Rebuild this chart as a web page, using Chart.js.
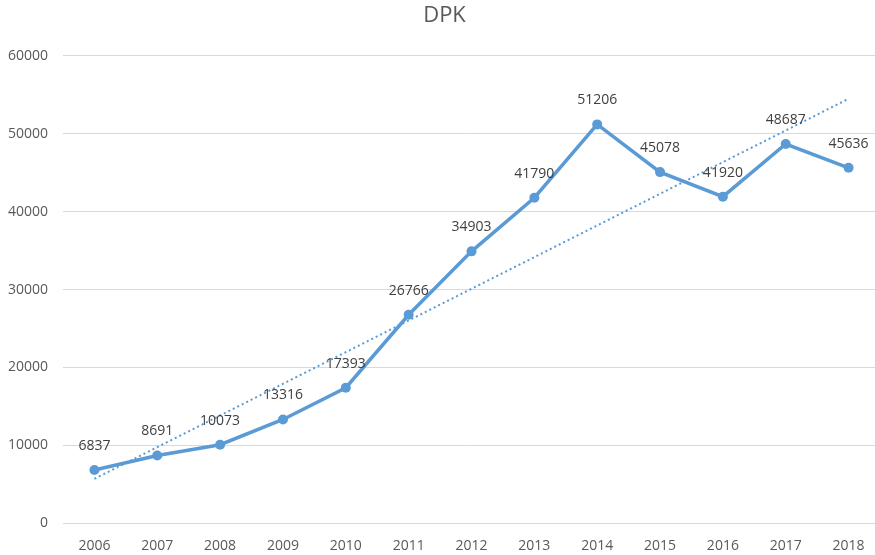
<!DOCTYPE html>
<html>
<head>
<meta charset="utf-8">
<script src="https://cdn.jsdelivr.net/npm/chart.js@4/dist/chart.umd.min.js"></script>
<style>
  html, body { margin: 0; padding: 0; background: #fff; overflow: hidden; }
  #wrap { width: 898px; height: 569px; margin-left: -13px; }
</style>
</head>
<body>
<div id="wrap"><canvas id="chart"></canvas></div>
<script>
let years = ['2006', '2007', '2008', '2009', '2010', '2011', '2012', '2013', '2014', '2015', '2016', '2017', '2018'];
let dpk = [6837, 8691, 10073, 13316, 17393, 26766, 34903, 41790, 51206, 45078, 41920, 48687, 45636];
// trendline ends
let trendYears = ['2006', '2018'];
let trendValues = [5700, 54500];
let yTicks = [0, 10000, 20000, 30000, 40000, 50000, 60000];

let blue = '#5B9BD5';
let grey = '#595959';
let font = '"Open Sans", "Noto Sans", sans-serif';

// draws the value above each point of the main series
let valueLabels = {
    id: 'valueLabels',
    afterDatasetsDraw(chart) {
        let ctx = chart.ctx;
        let meta = chart.getDatasetMeta(0);
        ctx.save();
        ctx.fillStyle = '#404040';
        ctx.font = '14px ' + font;
        ctx.textAlign = 'center';
        ctx.textBaseline = 'middle';
        meta.data.forEach((pt, i) => {
            ctx.fillText(String(dpk[i]), pt.x, pt.y - 24);
        });
        ctx.restore();
    }
};

let ctx = document.getElementById('chart').getContext('2d');
let chart = new Chart(ctx, {
    type: 'line',
    data: {
        labels: years,
        datasets: [{
            data: dpk,
            borderColor: blue,
            backgroundColor: blue,
            borderWidth: 3.5,
            pointRadius: 5,
            pointBorderWidth: 0,
            tension: 0,
            order: 1
        }, {
            data: trendYears.map((y, i) => ({ x: y, y: trendValues[i] })),
            borderColor: blue,
            borderWidth: 2,
            borderDash: [2, 3],
            pointRadius: 0,
            fill: false,
            order: 2
        }]
    },
    options: {
        responsive: true,
        maintainAspectRatio: false,
        animation: false,
        layout: { padding: { left: 17, right: 0, top: 0, bottom: 1 } },
        plugins: {
            legend: { display: false },
            tooltip: { enabled: false },
            title: {
                display: true,
                text: 'DPK',
                color: grey,
                font: { family: font, size: 22, weight: 'normal' },
                padding: { top: 3, bottom: 26.5 }
            }
        },
        scales: {
            x: {
                offset: true,
                grid: { display: false, drawTicks: false },
                border: { display: false },
                ticks: {
                    color: grey,
                    font: { family: font, size: 14 },
                    padding: 14,
                    maxRotation: 0
                }
            },
            y: {
                min: 0,
                max: 60000,
                afterBuildTicks: (axis) => { axis.ticks = yTicks.map(v => ({ value: v })); },
                afterFit: (axis) => { axis.width = 59; },
                grid: { color: '#d9d9d9', lineWidth: 1, drawTicks: false },
                border: { display: false },
                ticks: {
                    color: grey,
                    font: { family: font, size: 14 },
                    padding: 15,
                    callback: (v) => String(v)
                }
            }
        }
    },
    plugins: [valueLabels]
});
</script>
</body>
</html>
